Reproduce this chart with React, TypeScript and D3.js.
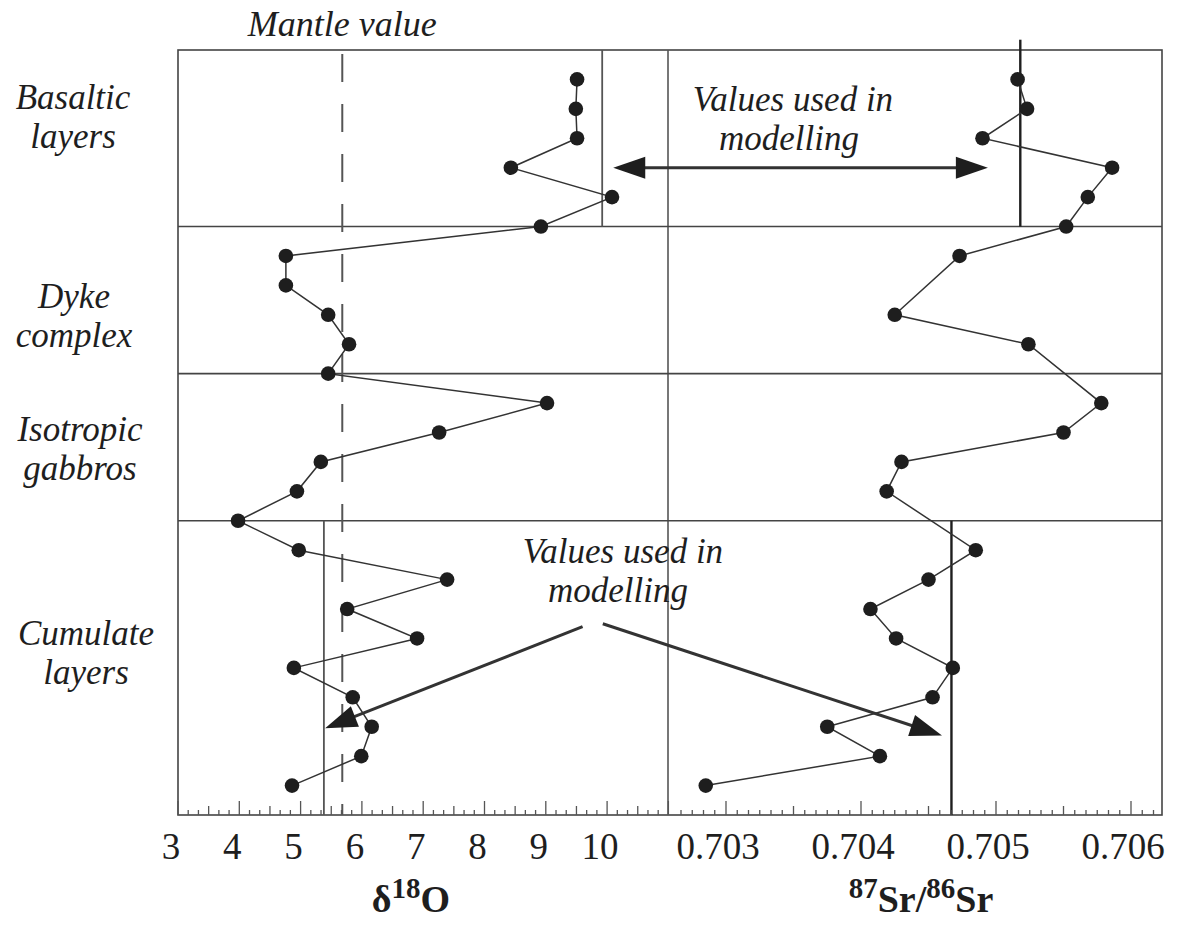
import React from "react";
import * as d3 from "d3";

// ---- data ----
const sampleIndex = d3.range(25);
const d18O = [9.51, 9.49, 9.51, 8.43, 10.08, 8.92, 4.76, 4.76, 5.45, 5.79, 5.45, 9.02, 7.26, 5.33, 4.94, 3.98, 4.97, 7.39, 5.76, 6.9, 4.89, 5.85, 6.16, 5.99, 4.86];
const srIndex = [0, 1, 2, 3, 4, 5, 6, 8, 9, 11, 12, 13, 14, 16, 17, 18, 19, 20, 21, 22, 23, 24];
const srValues = [0.70516, 0.70523, 0.7049, 0.70586, 0.70568, 0.70552, 0.70473, 0.70425, 0.70524, 0.70578, 0.7055, 0.7043, 0.70419, 0.70485, 0.7045, 0.70407, 0.70426, 0.70468, 0.70453, 0.70375, 0.70414, 0.70285];
const oTickLabels = [3, 4, 5, 6, 7, 8, 9, 10];
const srTickLabels = [0.703, 0.704, 0.705, 0.706];
const sectionBreaks = [5, 10, 15];
const sectionNames = [["Basaltic", "layers"], ["Dyke", "complex"], ["Isotropic", "gabbros"], ["Cumulate", "layers"]];
const sectionLabelY = [109, 308, 441, 645];
const sectionLabelX = [73, 74, 80, 86];
const mantleValue = 5.68;
const oModelLines = [{ v: 9.92, from: -1, to: 5 }, { v: 5.38, from: 15, to: 25 }];
const srModelLines = [{ v: 0.70518, from: -1.35, to: 5 }, { v: 0.70467, from: 15, to: 25 }];

const W = 1198, H = 926;
const left = 178, mid = 668, right = 1162, top = 50, bottom = 815;

const y = d3.scaleLinear().domain([-1, 25]).range([top, bottom]);
const xO = d3.scaleLinear().domain([3, 3 + (mid - left) / 61.3]).range([left, mid]);
const xS = d3.scaleLinear().domain([0.703 - (726 - mid) / 135000, 0.703 + (right - 726) / 135000]).range([mid, right]);

const FONT = "'Liberation Serif', 'Times New Roman', Times, serif";
const INK = "#1e1e1e";
const LINE = "#444";

function arrowHead(x1: number, y1: number, x2: number, y2: number, len = 32, half = 11) {
  const a = Math.atan2(y2 - y1, x2 - x1);
  const bx = x2 - len * Math.cos(a), by = y2 - len * Math.sin(a);
  const px = -Math.sin(a) * half, py = Math.cos(a) * half;
  return `M${x2},${y2}L${bx + px},${by + py}L${bx - px},${by - py}Z`;
}
function shortened(x1: number, y1: number, x2: number, y2: number, d = 28) {
  const a = Math.atan2(y2 - y1, x2 - x1);
  return [x2 - d * Math.cos(a), y2 - d * Math.sin(a)];
}

export default function App() {
  const oLine = d3.line<number>().x((v) => xO(v)).y((_, i) => y(sampleIndex[i]))(d18O) || "";
  const sLine = d3.line<number>().x((v) => xS(v)).y((_, i) => y(srIndex[i]))(srValues) || "";

  const oTicks = d3.range(0, 49).map((k) => ({ v: 3 + k / 6, kind: k % 6 === 0 ? 2 : k % 3 === 0 ? 1 : 0 }));
  const sTicks = d3.range(8432, 8475).map((k) => ({ v: k / 12000, kind: k % 12 === 0 ? 2 : k % 6 === 0 ? 1 : 0 }));
  const tickLen = [5, 9, 14];

  const topA = { x1: xO(10.1), x2: xS(0.70494), y: y(3) };
  const bl = { x1: xO(9.6), y1: y(18.6), x2: xO(5.4), y2: y(22.05) };
  const br = { x1: xO(9.93), y1: y(18.5), x2: xS(0.7046), y2: y(22.3) };

  const [tlx] = shortened(topA.x2, topA.y, topA.x1, topA.y);
  const [trx] = shortened(topA.x1, topA.y, topA.x2, topA.y);
  const [blx, bly] = shortened(bl.x1, bl.y1, bl.x2, bl.y2);
  const [brx, bry] = shortened(br.x1, br.y1, br.x2, br.y2);

  const italic = { fontSize: 35, fontStyle: "italic" as const, fill: INK };
  const LH = 39;

  return (
    <svg width={W} height={H} style={{ position: "absolute", left: 0, top: 0, background: "#fff" }} fontFamily={FONT}>
      <rect width={W} height={H} fill="#fff" />
      <rect x={left} y={top} width={right - left} height={bottom - top} fill="none" stroke={LINE} strokeWidth={1.6} />
      <line x1={mid} x2={mid} y1={top} y2={bottom} stroke="#555" strokeWidth={1.6} />
      {sectionBreaks.map((b) => (
        <line key={b} x1={left} x2={right} y1={y(b)} y2={y(b)} stroke={LINE} strokeWidth={1.6} />
      ))}
      <line x1={xO(mantleValue)} x2={xO(mantleValue)} y1={top + 4} y2={bottom} stroke="#555" strokeWidth={2} strokeDasharray="28 22" />
      {oModelLines.map((l, i) => (
        <line key={"o" + i} x1={xO(l.v)} x2={xO(l.v)} y1={y(l.from)} y2={y(l.to)} stroke="#555" strokeWidth={1.8} />
      ))}
      {srModelLines.map((l, i) => (
        <line key={"s" + i} x1={xS(l.v)} x2={xS(l.v)} y1={y(l.from)} y2={y(l.to)} stroke={INK} strokeWidth={2.4} />
      ))}
      {oTicks.map((t, i) => (
        <line key={"ot" + i} x1={xO(t.v)} x2={xO(t.v)} y1={bottom} y2={bottom - tickLen[t.kind]} stroke="#555" strokeWidth={1.3} />
      ))}
      {sTicks.map((t, i) => (
        <line key={"st" + i} x1={xS(t.v)} x2={xS(t.v)} y1={bottom} y2={bottom - tickLen[t.kind]} stroke="#555" strokeWidth={1.3} />
      ))}
      {oTickLabels.map((v) => (
        <text key={"ol" + v} x={xO(v) - 7} y={859} textAnchor="middle" fontSize={37} fill={INK}>{v}</text>
      ))}
      {srTickLabels.map((v) => (
        <text key={"sl" + v} x={xS(v) - 8} y={859} textAnchor="middle" fontSize={37} fill={INK}>{v.toFixed(3)}</text>
      ))}
      <text x={411} y={912} textAnchor="middle" fontSize={38} fontWeight="bold" fill={INK}>
        <tspan>δ</tspan>
        <tspan fontSize={29} dy={-14}>18</tspan>
        <tspan dy={14}>O</tspan>
      </text>
      <text x={921} y={912} textAnchor="middle" fontSize={38} fontWeight="bold" fill={INK}>
        <tspan fontSize={29} dy={-14}>87</tspan>
        <tspan dy={14}>Sr/</tspan>
        <tspan fontSize={29} dy={-14}>86</tspan>
        <tspan dy={14}>Sr</tspan>
      </text>
      {sectionNames.map((lines, i) => (
        <text key={"sec" + i} x={sectionLabelX[i]} y={sectionLabelY[i]} textAnchor="middle" {...italic}>
          {lines.map((l, j) => (
            <tspan key={j} x={sectionLabelX[i]} dy={j === 0 ? 0 : LH}>{l}</tspan>
          ))}
        </text>
      ))}
      <text x={xO(mantleValue)} y={36} textAnchor="middle" {...italic} fontSize={36}>Mantle value</text>
      <path d={oLine} fill="none" stroke="#333" strokeWidth={1.5} />
      <path d={sLine} fill="none" stroke="#333" strokeWidth={1.5} />
      {d18O.map((v, i) => (
        <circle key={"od" + i} cx={xO(v)} cy={y(sampleIndex[i])} r={7.3} fill={INK} />
      ))}
      {srValues.map((v, i) => (
        <circle key={"sd" + i} cx={xS(v)} cy={y(srIndex[i])} r={7.3} fill={INK} />
      ))}
      <line x1={tlx} x2={trx} y1={topA.y} y2={topA.y} stroke="#333" strokeWidth={3} />
      <path d={arrowHead(topA.x2, topA.y, topA.x1, topA.y)} fill={INK} />
      <path d={arrowHead(topA.x1, topA.y, topA.x2, topA.y)} fill={INK} />
      <text x={793} y={111} textAnchor="middle" {...italic}>
        <tspan x={793}>Values used in</tspan>
        <tspan x={789} dy={LH}>modelling</tspan>
      </text>
      <line x1={bl.x1} y1={bl.y1} x2={blx} y2={bly} stroke="#333" strokeWidth={3} />
      <path d={arrowHead(bl.x1, bl.y1, bl.x2, bl.y2)} fill={INK} />
      <line x1={br.x1} y1={br.y1} x2={brx} y2={bry} stroke="#333" strokeWidth={3} />
      <path d={arrowHead(br.x1, br.y1, br.x2, br.y2)} fill={INK} />
      <text x={623} y={563} textAnchor="middle" {...italic}>
        <tspan x={623}>Values used in</tspan>
        <tspan x={618} dy={LH}>modelling</tspan>
      </text>
    </svg>
  );
}
